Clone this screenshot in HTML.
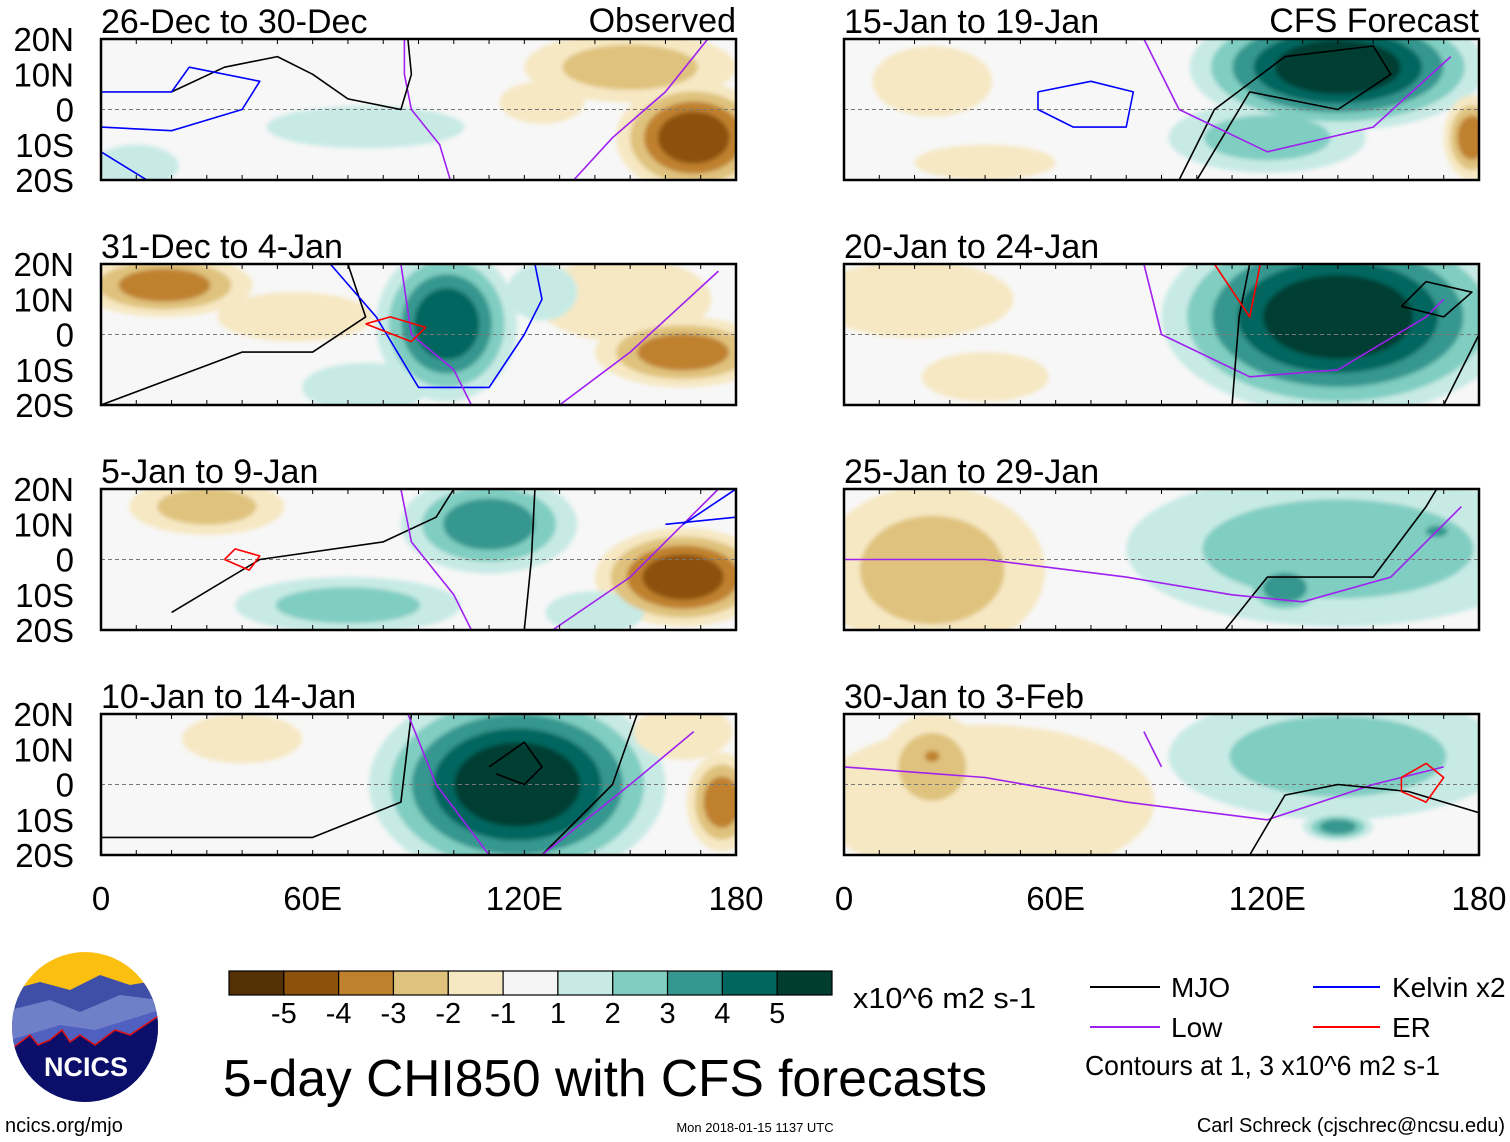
<!DOCTYPE html>
<html><head><meta charset="utf-8"><style>
html,body{margin:0;padding:0;background:#fff}
svg{display:block;font-family:"Liberation Sans",Arial,sans-serif}
</style></head><body>
<svg id="chart" width="1510" height="1142" viewBox="0 0 1510 1142" xmlns="http://www.w3.org/2000/svg">
<defs><filter id="soft" x="-20%" y="-20%" width="140%" height="140%"><feGaussianBlur stdDeviation="2"/></filter></defs>
</svg>
<script>
// ---- data ----
const panelTitles = ["26-Dec to 30-Dec","31-Dec to 4-Jan","5-Jan to 9-Jan","10-Jan to 14-Jan",
                     "15-Jan to 19-Jan","20-Jan to 24-Jan","25-Jan to 29-Jan","30-Jan to 3-Feb"];
const latTicks = [20,10,0,-10,-20];
const latLabels = ["20N","10N","0","10S","20S"];
const lonTicks = [0,60,120,180];
const lonLabels = ["0","60E","120E","180"];
const levelLabels = ["-5","-4","-3","-2","-1","1","2","3","4","5"];
// blobs: [lon, lat, rxDeg, ryDeg, level]
const blobs0 = [[168,-8,22,16,-4],[150,12,30,10,-2],[125,2,12,6,-1],[75,-5,28,6,1],[10,-16,12,6,1]];
const blobs1 = [[18,14,25,9,-3],[98,3,20,22,4],[165,-5,25,10,-3],[148,10,25,12,-1],[55,5,22,7,-1],[75,-15,18,7,1],[125,12,10,8,1]];
const blobs2 = [[110,10,25,14,3],[70,-13,32,8,2],[165,-5,25,14,-4],[30,15,22,8,-2],[140,-15,14,6,1]];
const blobs3 = [[118,0,42,28,5],[176,-5,10,14,-3],[165,15,14,8,-1],[40,13,17,7,-1]];
const blobs4 = [[140,12,42,18,5],[120,-8,28,10,2],[178,-8,8,12,-3],[25,8,17,10,-1],[40,-15,20,5,-1]];
const blobs5 = [[140,5,50,28,5],[20,10,28,11,-1],[40,-12,18,7,-1]];
const blobs6 = [[140,3,60,22,2],[125,-8,12,8,3],[168,8,6,3,3],[25,-3,32,24,-2]];
const blobs7 = [[140,8,48,18,2],[140,-12,10,4,3],[40,-5,48,22,-1],[25,5,15,15,-2],[25,8,4,3,-3]];
const panelBlobs = [blobs0,blobs1,blobs2,blobs3,blobs4,blobs5,blobs6,blobs7];
// contour lines: [type, [[lon,lat],...]]
const lines0 = [["low",[[99,-20],[96,-10],[88,0],[86,10],[86,20]]],["low",[[134,-20],[145,-8],[160,5],[172,20]]],
  ["mjo",[[20,5],[35,12],[50,15],[60,10],[70,3],[85,0],[88,10],[87,20]]],["kelvin",[[0,-5],[20,-6],[40,0],[45,8],[25,12],[20,5],[0,5]]],["kelvin",[[0,-12],[13,-20]]]];
const lines1 = [["mjo",[[0,-20],[40,-5],[60,-5],[75,5],[70,20]]],["kelvin",[[65,20],[78,5],[90,-15],[110,-15],[120,0],[125,10],[123,20]]],
  ["low",[[85,20],[88,0],[100,-10],[105,-20]]],["low",[[130,-20],[150,-5],[175,18]]],["er",[[75,3],[88,-2],[92,2],[82,5],[75,3]]]];
const lines2 = [["mjo",[[20,-15],[45,0],[80,5],[95,12],[100,20]]],["mjo",[[123,20],[122,0],[120,-20]]],["low",[[85,20],[88,5],[100,-10],[105,-20]]],
  ["low",[[128,-20],[150,-5],[175,20]]],["kelvin",[[160,10],[180,12]]],["kelvin",[[165,10],[180,20]]],["er",[[35,0],[42,-3],[45,1],[38,3],[35,0]]]];
const lines3 = [["mjo",[[0,-15],[60,-15],[85,-5],[88,20]]],["mjo",[[125,-20],[145,0],[152,20]]],["low",[[87,20],[95,0],[110,-20]]],
  ["low",[[125,-20],[150,0],[168,15]]],["mjo",[[110,5],[120,12],[125,5],[120,0],[112,3]]]];
const lines4 = [["kelvin",[[55,5],[70,8],[82,5],[80,-5],[65,-5],[55,0],[55,5]]],["mjo",[[95,-20],[105,0],[125,15],[150,18],[155,10],[140,0],[115,5],[100,-20]]],
  ["low",[[85,20],[95,0],[120,-12],[150,-5],[172,15]]]];
const lines5 = [["low",[[85,20],[90,0],[115,-12],[140,-10],[165,5],[170,10]]],["mjo",[[110,-20],[112,5],[115,20]]],["mjo",[[158,8],[165,15],[178,12],[170,5],[158,8]]],
  ["mjo",[[170,-20],[180,0]]],["er",[[105,20],[115,5],[118,20]]]];
const lines6 = [["mjo",[[108,-20],[120,-5],[150,-5],[165,15],[168,20]]],["low",[[0,0],[40,0],[80,-5],[110,-10],[130,-12],[155,-5],[175,15]]]];
const lines7 = [["low",[[0,5],[40,2],[80,-5],[120,-10],[150,0],[170,5]]],["low",[[85,15],[90,5]]],["mjo",[[115,-20],[125,-3],[140,0],[160,-2],[180,-8]]],
  ["er",[[158,2],[165,6],[170,2],[165,-5],[158,-2],[158,2]]]];
const panelLines = [lines0,lines1,lines2,lines3,lines4,lines5,lines6,lines7];

const posColors = ["#c7eae5","#80cdc1","#35978f","#01665e","#003c30"];
const negColors = ["#f6e8c3","#dfc27d","#bf812d","#8c510a","#543005"];
const barColors = ["#543005","#8c510a","#bf812d","#dfc27d","#f6e8c3","#f5f5f5","#c7eae5","#80cdc1","#35978f","#01665e","#003c30"];
const lineColors = {mjo:"#000000",low:"#a020f0",kelvin:"#0000ff",er:"#ff0000"};

// ---- drawing ----
const NS = "http://www.w3.org/2000/svg";
const svg = document.getElementById("chart");
function el(tag, attrs, parent, text){const e=document.createElementNS(NS,tag);for(const k in attrs)e.setAttribute(k,attrs[k]);if(text!==undefined)e.textContent=text;(parent||svg).appendChild(e);return e;}
const colX = [101,844], rowY = [39,264,489,714], PW = 635, PH = 141;
function xScale(p,lon){return colX[Math.floor(p/4)] + lon/180*PW;}
function yScale(p,lat){return rowY[p%4] + (20-lat)/40*PH;}

for(let p=0;p<8;p++){
  const x0=colX[Math.floor(p/4)], y0=rowY[p%4];
  const g=el("g",{});
  
  
  el("clipPath",{id:"clip"+p},g).appendChild((()=>{const r=document.createElementNS(NS,"rect");r.setAttribute("x",x0);r.setAttribute("y",y0);r.setAttribute("width",PW);r.setAttribute("height",PH);return r;})());
  el("rect",{x:x0,y:y0,width:PW,height:PH,fill:"#f7f7f7"},g);
  const fg=el("g",{"clip-path":"url(#clip"+p+")"},g);
  const sg=el("g",{filter:"url(#soft)"},fg);
  const bl=panelBlobs[p];
  for(let k=1;k<=5;k++){
    bl.forEach(b=>{
      const L=Math.abs(b[4]); if(k>L) return;
      const f=1-(k-1)/L*0.72;
      const e=el("ellipse",{cx:xScale(p,b[0]),cy:yScale(p,b[1]),rx:b[2]/180*PW*f,ry:b[3]/40*PH*f,fill:(b[4]>0?posColors:negColors)[k-1]},sg);
      
      
    });
  }
  el("line",{x1:x0,x2:x0+PW,y1:yScale(p,0),y2:yScale(p,0),stroke:"#777","stroke-dasharray":"4,3","stroke-width":1},fg);
  panelLines[p].forEach(ln=>{
    const d=ln[1].map((pt,i)=>(i?"L":"M")+xScale(p,pt[0]).toFixed(1)+","+yScale(p,pt[1]).toFixed(1)).join(" ");
    const pa=el("path",{d:d,fill:"none",stroke:lineColors[ln[0]],"stroke-width":1.6,"stroke-linejoin":"round"},fg);
    
    
  });
  el("rect",{x:x0,y:y0,width:PW,height:PH,fill:"none",stroke:"#000","stroke-width":2.5},g);
  for(let lon=0;lon<=180;lon+=10){
    el("line",{x1:xScale(p,lon),x2:xScale(p,lon),y1:y0,y2:y0+5,stroke:"#000"},g);
    el("line",{x1:xScale(p,lon),x2:xScale(p,lon),y1:y0+PH,y2:y0+PH-5,stroke:"#000"},g);
  }
  const t=el("text",{x:x0,y:y0-6,"font-size":34},g,panelTitles[p]);
  
  
  if(p<4){
    latTicks.forEach((lt,i)=>{
      const tl=el("text",{x:74,y:yScale(p,lt)+12,"font-size":33,"text-anchor":"end"},svg,latLabels[i]);
      
      
    });
  }
}
const t0=el("text",{x:736,y:32,"font-size":34,"text-anchor":"end"},svg,"Observed");


const t1=el("text",{x:1479,y:32,"font-size":34,"text-anchor":"end"},svg,"CFS Forecast");


for(let c=0;c<2;c++){
  lonTicks.forEach((lo,i)=>{
    const tl=el("text",{x:xScale(c*4,lo),y:910,"font-size":33,"text-anchor":"middle"},svg,lonLabels[i]);
    
    
  });
}
// colorbar
const cbX=229, cbW=603/11;
barColors.forEach((c,i)=>{
  const r=el("rect",{x:cbX+i*cbW,y:971,width:cbW,height:24,fill:c,stroke:"#000","stroke-width":1.2});
  
  
});
levelLabels.forEach((l,i)=>{
  const tl=el("text",{x:cbX+(i+1)*cbW,y:1023,"font-size":29,"text-anchor":"middle"},svg,l);
  
  
});
</script>
<svg style="position:absolute;left:0;top:0" width="1510" height="1142" xmlns="http://www.w3.org/2000/svg" font-family="Liberation Sans, Arial, sans-serif">
<g>
<clipPath id="lc"><ellipse cx="85" cy="1027" rx="73" ry="75"/></clipPath>
<g clip-path="url(#lc)">
<rect x="10" y="950" width="150" height="160" fill="#fbbf10"/>
<path d="M10 990 L40 982 L70 990 L100 975 L130 985 L160 980 L160 1110 L10 1110Z" fill="#3f4fa8"/>
<path d="M10 1010 L50 1000 L80 1012 L120 995 L160 1000 L160 1110 L10 1110Z" fill="#7080c8"/>
<path d="M10 1040 L60 1025 L95 1030 L160 1010 L160 1110 L10 1110Z" fill="#5060c0"/>
<path d="M10 1050 L30 1035 L38 1045 L50 1040 L62 1030 L70 1042 L80 1035 L95 1045 L115 1030 L130 1035 L160 1015 L160 1110 L10 1110Z" fill="#0b0f6a" stroke="#e01010" stroke-width="1.5"/>
</g>
<text x="86" y="1076" font-size="27" font-weight="bold" fill="#fff" text-anchor="middle">NCICS</text>
</g>
<text x="853" y="1008" font-size="29" textLength="183" lengthAdjust="spacingAndGlyphs">x10^6 m2 s-1</text>
<text x="223" y="1096" font-size="52" textLength="764" lengthAdjust="spacingAndGlyphs">5-day CHI850 with CFS forecasts</text>
<g>
<line x1="1090" x2="1160" y1="987" y2="987" stroke="#000" stroke-width="2"/>
<text x="1171" y="997" font-size="28">MJO</text>
<line x1="1313" x2="1380" y1="987" y2="987" stroke="#0000ff" stroke-width="2"/>
<text x="1392" y="997" font-size="28">Kelvin x2</text>
<line x1="1090" x2="1160" y1="1027" y2="1027" stroke="#a020f0" stroke-width="2"/>
<text x="1171" y="1037" font-size="28">Low</text>
<line x1="1313" x2="1380" y1="1027" y2="1027" stroke="#ff0000" stroke-width="2"/>
<text x="1392" y="1037" font-size="28">ER</text>
<text x="1085" y="1075" font-size="28" textLength="355" lengthAdjust="spacingAndGlyphs">Contours at 1, 3 x10^6 m2 s-1</text>
</g>
<text x="5" y="1132" font-size="20">ncics.org/mjo</text>
<text x="755" y="1132" font-size="13" text-anchor="middle">Mon 2018-01-15 1137 UTC</text>
<text x="1505" y="1132" font-size="20" text-anchor="end">Carl Schreck (cjschrec@ncsu.edu)</text>
</svg>
</body></html>
